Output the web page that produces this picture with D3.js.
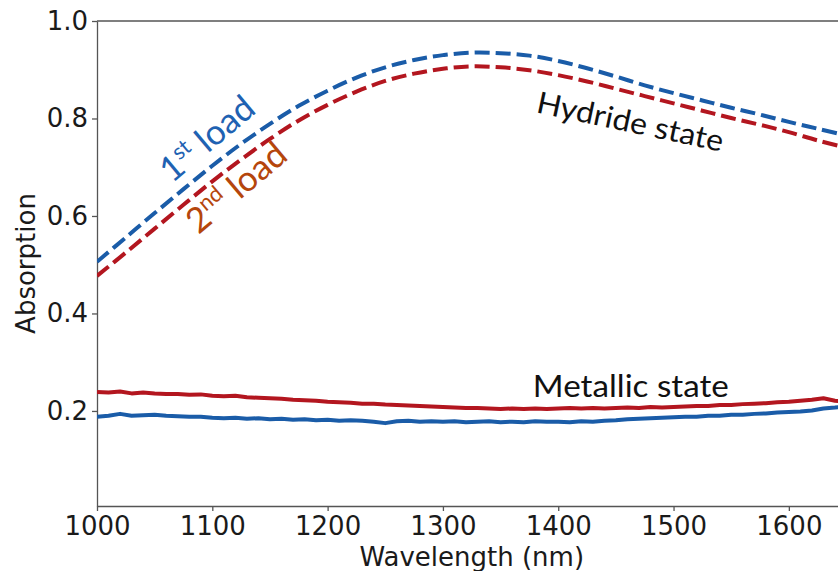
<!DOCTYPE html>
<html>
<head>
<meta charset="utf-8">
<script src="https://cdn.jsdelivr.net/npm/d3@7/dist/d3.min.js"></script>
<style>
  body { margin: 0; background: #fff; }
  svg { display: block; }
</style>
</head>
<body>
<div id="chart"></div>
<script>
// size
var chart_width = 838;
var chart_height = 571;

// hydride state, dashed (25 nm steps)
var hydride_nm = [1000, 1025, 1050, 1075, 1100, 1125, 1150, 1175, 1200, 1225, 1250, 1275, 1300,
                  1325, 1350, 1375, 1400, 1425, 1450, 1475, 1500, 1525, 1550, 1575, 1600, 1625, 1650];
var hydride_load1 = [0.506, 0.556, 0.606, 0.655, 0.703, 0.748, 0.789, 0.826, 0.857, 0.884, 0.905, 0.920, 0.930,
                     0.935, 0.934, 0.929, 0.918, 0.903, 0.886, 0.868, 0.852, 0.837, 0.822, 0.808, 0.793, 0.779, 0.765];
var hydride_load2 = [0.477, 0.525, 0.574, 0.623, 0.671, 0.716, 0.758, 0.796, 0.828, 0.855, 0.877, 0.892, 0.902,
                     0.907, 0.905, 0.899, 0.889, 0.876, 0.861, 0.846, 0.831, 0.816, 0.801, 0.787, 0.772, 0.755, 0.740];

// metallic state, solid (10 nm steps)
var metal_nm = d3.range(1000, 1651, 10);
var metal_load1 = [0.188, 0.190, 0.194, 0.190, 0.191, 0.192, 0.190, 0.189, 0.188, 0.188,
                   0.186, 0.185, 0.186, 0.184, 0.185, 0.183, 0.184, 0.182, 0.183, 0.181,
                   0.182, 0.180, 0.181, 0.180, 0.178, 0.175, 0.179, 0.180, 0.178, 0.179,
                   0.178, 0.179, 0.177, 0.178, 0.179, 0.177, 0.178, 0.177, 0.179, 0.178,
                   0.178, 0.177, 0.179, 0.178, 0.180, 0.181, 0.183, 0.184, 0.185, 0.186,
                   0.187, 0.188, 0.188, 0.190, 0.190, 0.192, 0.192, 0.194, 0.195, 0.197,
                   0.198, 0.199, 0.201, 0.205, 0.207, 0.210];
var metal_load2 = [0.239, 0.238, 0.240, 0.236, 0.238, 0.236, 0.235, 0.235, 0.233, 0.234,
                   0.231, 0.230, 0.231, 0.228, 0.227, 0.226, 0.225, 0.223, 0.222, 0.221,
                   0.219, 0.218, 0.217, 0.215, 0.215, 0.213, 0.212, 0.211, 0.210, 0.209,
                   0.208, 0.207, 0.206, 0.206, 0.205, 0.204, 0.205, 0.204, 0.205, 0.204,
                   0.205, 0.206, 0.205, 0.206, 0.205, 0.206, 0.207, 0.206, 0.208, 0.207,
                   0.208, 0.209, 0.210, 0.210, 0.212, 0.212, 0.214, 0.215, 0.216, 0.218,
                   0.219, 0.221, 0.223, 0.226, 0.221, 0.219];

var x_ticks = [1000, 1100, 1200, 1300, 1400, 1500, 1600];
var y_ticks = [0.2, 0.4, 0.6, 0.8, 1.0];

var blue = '#1a5ca8';
var red = '#b3161f';

// scales
var x = d3.scaleLinear().domain([1000, 1650]).range([97, 846.5]);
var y = d3.scaleLinear().domain([0.005, 1.0]).range([506, 21]);

var svg = d3.select('#chart')
            .append('svg')
            .attr('width', chart_width)
            .attr('height', chart_height);

svg.append('defs').append('clipPath')
    .attr('id', 'plot')
    .append('rect')
    .attr('x', x.range()[0]).attr('y', y.range()[1])
    .attr('width', x.range()[1] - x.range()[0])
    .attr('height', y.range()[0] - y.range()[1]);

// axes
var x_axis = svg.append('g')
    .attr('transform', 'translate(0,' + y.range()[0] + ')')
    .call(d3.axisBottom(x).tickValues(x_ticks).tickFormat(d3.format('d')).tickSize(5).tickPadding(6).tickSizeOuter(0));
var y_axis = svg.append('g')
    .attr('transform', 'translate(' + x.range()[0] + ',0)')
    .call(d3.axisLeft(y).tickValues(y_ticks).tickFormat(d3.format('.1f')).tickSize(5).tickPadding(4).tickSizeOuter(0));

svg.append('line')
    .attr('x1', x.range()[0]).attr('x2', x.range()[1])
    .attr('y1', y.range()[1]).attr('y2', y.range()[1])
    .attr('stroke', '#555').attr('stroke-width', 1.3);

svg.selectAll('.domain').attr('stroke', '#555').attr('stroke-width', 1.3);
svg.selectAll('.tick line').attr('stroke', '#555').attr('stroke-width', 1.3);
svg.selectAll('.tick text')
    .attr('font-family', 'DejaVu Sans')
    .attr('font-size', 26)
    .attr('fill', '#1a1a1a');

svg.append('text')
    .attr('x', (x.range()[0] + x.range()[1]) / 2)
    .attr('y', 566)
    .attr('text-anchor', 'middle')
    .attr('font-family', 'DejaVu Sans')
    .attr('font-size', 26)
    .attr('fill', '#1a1a1a')
    .text('Wavelength (nm)');

svg.append('text')
    .attr('transform', 'translate(35,' + (y.range()[0] + y.range()[1]) / 2 + ') rotate(-90)')
    .attr('text-anchor', 'middle')
    .attr('font-family', 'DejaVu Sans')
    .attr('font-size', 26)
    .attr('fill', '#1a1a1a')
    .text('Absorption');

// lines
var line = d3.line()
    .x(function(d){ return x(d[0]); })
    .y(function(d){ return y(d[1]); });

var plot = svg.append('g').attr('clip-path', 'url(#plot)');

var series = [
    { nm: metal_nm, v: metal_load1, color: blue, dash: null },
    { nm: metal_nm, v: metal_load2, color: red, dash: null },
    { nm: hydride_nm, v: hydride_load1, color: blue, dash: '15,6' },
    { nm: hydride_nm, v: hydride_load2, color: red, dash: '15,6' }
];

series.forEach(function(s){
    var pts = s.nm.map(function(n, i){ return [n, s.v[i]]; });
    plot.append('path')
        .datum(pts)
        .attr('d', s.dash ? line.curve(d3.curveCatmullRom)(pts) : line.curve(d3.curveLinear)(pts))
        .attr('fill', 'none')
        .attr('stroke', s.color)
        .attr('stroke-width', 4)
        .attr('stroke-linejoin', 'round')
        .attr('stroke-dasharray', s.dash);
});

// annotations
function load_label(nm, v, num, sup, color){
    var t = svg.append('text')
        .attr('transform', 'translate(' + x(nm) + ',' + y(v) + ') rotate(-40)')
        .attr('font-family', 'Lato')
        .attr('font-size', 35)
        .attr('fill', color);
    t.append('tspan').text(num);
    t.append('tspan').attr('font-size', 22).attr('dy', -13).text(sup);
    t.append('tspan').attr('dy', 13).text(' load');
}
load_label(1065, 0.666, '1', 'st', '#1f62b2');
load_label(1088, 0.561, '2', 'nd', '#b5460c');

svg.append('text')
    .attr('transform', 'translate(' + x(1380) + ',' + y(0.813) + ') rotate(12)')
    .attr('font-family', 'Lato')
    .attr('font-size', 30)
    .attr('fill', '#111')
    .attr('textLength', 190)
    .attr('lengthAdjust', 'spacingAndGlyphs')
    .text('Hydride state');

svg.append('text')
    .attr('x', x(1378))
    .attr('y', y(0.229))
    .attr('font-family', 'Lato')
    .attr('font-size', 30)
    .attr('fill', '#111')
    .attr('textLength', 196)
    .attr('lengthAdjust', 'spacingAndGlyphs')
    .text('Metallic state');
</script>
</body>
</html>
